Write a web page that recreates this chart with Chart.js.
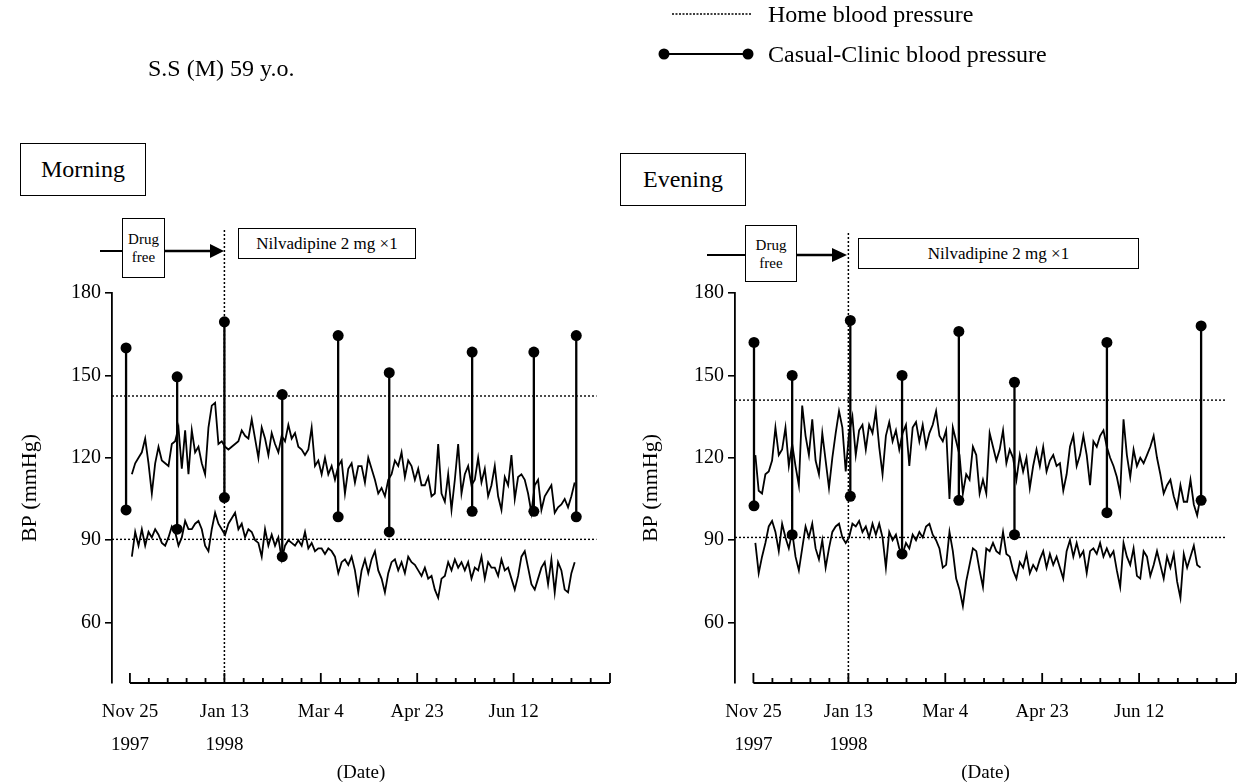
<!DOCTYPE html>
<html>
<head>
<meta charset="utf-8">
<script src="https://cdn.jsdelivr.net/npm/chart.js@4.4.1/dist/chart.umd.min.js"></script>
<style>
  body { margin: 0; width: 1242px; height: 782px; background: #fff; position: relative; overflow: hidden;
         font-family: "Liberation Serif", "Times New Roman", serif; color: #000; }
  canvas { position: absolute; top: 0; }
  .t { position: absolute; white-space: nowrap; font-size: 24px; line-height: 28px; }
  .box { position: absolute; border: 1.5px solid #000; box-sizing: border-box; background: #fff;
         display: flex; align-items: center; justify-content: center; text-align: center; }
  svg { position: absolute; left: 0; top: 0; }
</style>
</head>
<body>
<canvas id="morning" width="621" height="790" style="left:0"></canvas>
<canvas id="evening" width="621" height="790" style="left:621px"></canvas>

<div class="t" style="left:148px; top:54px;">S.S (M) 59 y.o.</div>
<div class="t" style="left:768px; top:0px;">Home blood pressure</div>
<div class="t" style="left:768px; top:40px;">Casual-Clinic blood pressure</div>

<div class="box" style="left:20px; top:143px; width:126px; height:53px; font-size:24px;">Morning</div>
<div class="box" style="left:620px; top:153px; width:126px; height:53px; font-size:24px;">Evening</div>

<div class="box" style="left:122px; top:218px; width:43px; height:60px; font-size:15px; line-height:18px;">Drug<br>free</div>
<div class="box" style="left:238px; top:228px; width:178px; height:31px; font-size:17px;">Nilvadipine 2 mg &times;1</div>

<div class="box" style="left:745px; top:225px; width:52px; height:57px; font-size:15px; line-height:18px;">Drug<br>free</div>
<div class="box" style="left:858px; top:238px; width:281px; height:31px; font-size:17px;">Nilvadipine 2 mg &times;1</div>

<svg width="1242" height="300">
  <!-- legend symbols -->
  <line x1="672" y1="14" x2="752" y2="14" stroke="#000" stroke-width="1.6" stroke-dasharray="2,1.5"/>
  <line x1="664" y1="54" x2="748" y2="54" stroke="#000" stroke-width="2.2"/>
  <circle cx="664" cy="54" r="5.5" fill="#000"/>
  <circle cx="748" cy="54" r="5.5" fill="#000"/>
  <!-- treatment arrows -->
  <line x1="100" y1="251" x2="122" y2="251" stroke="#000" stroke-width="2"/>
  <line x1="165" y1="251" x2="212" y2="251" stroke="#000" stroke-width="2.5"/>
  <polygon points="210,244 224,251 210,258" fill="#000"/>
  <line x1="707" y1="255" x2="745" y2="255" stroke="#000" stroke-width="2"/>
  <line x1="797" y1="255" x2="834" y2="255" stroke="#000" stroke-width="2.5"/>
  <polygon points="832,248 847,255 832,262" fill="#000"/>
</svg>

<script>
// ---- data (days counted from Nov 25, 1997) ----
const homeStartDay = 1;
const homeStepDays = 1.727;

// Morning home blood pressure (systolic / diastolic), mmHg
const morningHomeSys = [
  114,118,120,122,127,118,107,118,124,119, 118,117,125,126,131,116,130,114,130,122,
  124,118,114,131,139,140,125,126,124,123, 124,125,126,130,128,127,134,127,120,131,
  127,121,129,125,122,128,126,132,127,129, 124,123,121,123,131,117,119,114,120,114,
  117,112,117,119,107,116,118,111,117,117, 111,120,116,112,107,109,106,112,114,119,
  117,122,113,119,117,112,116,110,110,113, 106,107,125,107,104,114,101,112,125,107,
  114,117,110,112,120,111,116,106,110,117, 106,101,113,110,121,105,113,114,112,107,
  100,110,112,101,106,108,110,100,102,103, 105,102,106,111
];
const morningHomeDia = [
  84,93,88,94,88,93,91,94,92,89, 88,91,95,93,88,91,97,94,94,96,
  97,94,88,86,94,100,96,94,92,96, 98,100,94,96,91,94,93,90,89,84,
  94,88,92,88,91,83,88,90,89,88, 90,88,93,87,89,86,87,87,85,87,
  86,84,78,82,83,81,84,79,71,79, 83,78,83,86,79,76,71,78,82,83,
  79,82,78,84,82,81,79,77,80,76, 77,72,69,76,77,82,79,83,80,82,
  79,82,76,80,79,84,76,82,80,80, 77,83,79,80,76,72,77,84,86,80,
  74,72,76,80,82,74,83,71,82,79, 72,71,78,82
];

// Evening home blood pressure
const eveningHomeSys = [
  121,108,107,114,115,119,131,121,123,131, 117,125,117,110,139,128,121,134,119,114,
  129,119,109,120,129,137,131,115,129,135, 121,130,132,123,132,129,137,124,114,128,
  133,126,130,123,129,132,117,131,133,126, 132,124,129,132,137,128,126,130,105,131,
  126,121,107,114,112,124,121,107,112,107, 129,124,119,123,130,118,123,120,112,121,
  115,120,109,117,123,117,124,115,119,121, 117,118,108,114,124,128,117,121,128,121,
  110,126,124,128,130,124,120,117,113,107, 134,121,113,123,117,120,118,121,124,128,
  120,114,107,110,112,106,102,110,104,104, 112,103,99,106
];
const eveningHomeDia = [
  89,78,84,89,95,97,93,86,96,91, 87,93,84,79,87,95,91,96,87,83,
  90,80,87,93,95,96,91,89,91,96, 95,97,93,95,91,96,92,96,91,80,
  93,90,92,87,85,89,87,92,90,93, 91,95,96,92,90,87,80,81,93,86,
  76,72,66,75,81,87,86,79,73,87, 86,89,86,85,93,85,84,79,76,82,
  80,85,78,81,79,83,86,80,85,81, 84,80,76,86,90,84,89,84,86,78,
  86,87,85,89,84,87,84,86,79,73, 89,84,81,87,77,76,86,84,77,81,
  86,81,76,84,80,85,75,69,85,80, 84,88,81,80
];

// Casual-clinic visits: day, systolic, diastolic
const morningClinicDays = [-2, 24.5, 49, 79, 108, 134.5, 177.5, 209.5, 231.5];
const morningClinicSys  = [160, 149.5, 169.5, 143, 164.5, 151, 158.5, 158.5, 164.5];
const morningClinicDia  = [101, 94, 105.5, 84, 98.5, 93, 100.5, 100.5, 98.5];

const eveningClinicDays = [0.3, 20, 50, 76.7, 106, 134.7, 182.4, 231];
const eveningClinicSys  = [162, 150, 170, 150, 166, 147.5, 162, 168];
const eveningClinicDia  = [102.5, 92, 106, 85, 104.5, 92, 100, 104.5];

// Home BP reference levels drawn as dotted lines
const morningRefLevels = [142.5, 90.3];
const eveningRefLevels = [141, 91];

// Axes
const yTicks = [60, 90, 120, 150, 180];
const xLabelDays = [0, 49, 99, 149, 199];
const xTickLabels = [['Nov 25', '1997'], ['Jan 13', '1998'], 'Mar 4', 'Apr 23', 'Jun 12'];
const majorTickDays = [0, 49, 99, 149, 199, 249];
const minorPerInterval = 5;
const treatmentStartDay = 49;

const FONT = '"Liberation Serif", "Times New Roman", serif';
Chart.defaults.font.family = FONT;
Chart.defaults.color = '#000';

// draws the detached date axis with inward ticks and the treatment start line
const panelAxes = {
  id: 'panelAxes',
  afterDatasetsDraw(chart, args, opts) {
    const { ctx, chartArea, scales: { x } } = chart;
    const base = chartArea.bottom;
    ctx.save();
    ctx.strokeStyle = '#000';
    ctx.lineWidth = 1.8;
    ctx.beginPath();
    ctx.moveTo(x.getPixelForValue(majorTickDays[0]), base);
    ctx.lineTo(x.getPixelForValue(majorTickDays[majorTickDays.length - 1]), base);
    for (let i = 0; i < majorTickDays.length; i++) {
      const px = x.getPixelForValue(majorTickDays[i]);
      ctx.moveTo(px, base);
      ctx.lineTo(px, base - 10);
      if (i < majorTickDays.length - 1) {
        const span = majorTickDays[i + 1] - majorTickDays[i];
        for (let k = 1; k < minorPerInterval; k++) {
          const mx = x.getPixelForValue(majorTickDays[i] + span * k / minorPerInterval);
          ctx.moveTo(mx, base);
          ctx.lineTo(mx, base - 5);
        }
      }
    }
    ctx.stroke();

    // dotted line marking the start of nilvadipine
    ctx.lineWidth = 1.5;
    ctx.setLineDash([2, 2]);
    const sx = x.getPixelForValue(treatmentStartDay);
    ctx.beginPath();
    ctx.moveTo(sx, opts.lineTop);
    ctx.lineTo(sx, base);
    ctx.stroke();
    ctx.restore();
  }
};

function homePoints(values) {
  return values.map((v, i) => ({ x: homeStartDay + i * homeStepDays, y: v }));
}

function clinicPoints(days, sys, dia) {
  const pts = [];
  days.forEach((d, i) => {
    pts.push({ x: d, y: sys[i] }, { x: d, y: dia[i] }, { x: d, y: null });
  });
  return pts;
}

function makePanel(canvasId, p) {
  const refSets = p.refLevels.map(v => ({
    data: [{ x: p.xMin, y: v }, { x: p.refEnd, y: v }],
    borderColor: '#000', borderWidth: 1.4, borderDash: [2, 2],
    pointRadius: 0, order: 3
  }));
  new Chart(document.getElementById(canvasId), {
    type: 'line',
    data: {
      datasets: [
        ...refSets,
        { data: homePoints(p.sys), borderColor: '#000', borderWidth: 1.8, pointRadius: 0, tension: 0, order: 2 },
        { data: homePoints(p.dia), borderColor: '#000', borderWidth: 1.8, pointRadius: 0, tension: 0, order: 2 },
        { data: clinicPoints(p.clinicDays, p.clinicSys, p.clinicDia), borderColor: '#000', borderWidth: 2.3,
          pointRadius: 5.5, pointBackgroundColor: '#000', pointBorderWidth: 0, spanGaps: false, order: 1 }
      ]
    },
    options: {
      responsive: false,
      animation: false,
      events: [],
      layout: { padding: { top: 293, left: 0, right: p.padRight, bottom: 0 } },
      plugins: {
        legend: { display: false },
        tooltip: { enabled: false },
        panelAxes: { lineTop: p.lineTop }
      },
      scales: {
        x: {
          type: 'linear', min: p.xMin, max: 249,
          afterBuildTicks: s => { s.ticks = xLabelDays.map(v => ({ value: v })); },
          afterFit: s => { s.height = 107; },
          grid: { display: false, drawTicks: false },
          border: { display: false },
          ticks: {
            autoSkip: false, maxRotation: 0, padding: 12,
            font: { size: 19, lineHeight: 1.75 },
            callback: v => xTickLabels[xLabelDays.indexOf(v)]
          },
          title: { display: true, text: '(Date)', font: { size: 19 }, padding: { top: 0, bottom: 6 } }
        },
        y: {
          min: 38, max: 180,
          afterBuildTicks: s => { s.ticks = yTicks.map(v => ({ value: v })); },
          afterFit: s => { s.width = p.yWidth; },
          grid: { drawOnChartArea: false, drawTicks: true, tickLength: 7, color: '#000', lineWidth: 1.6 },
          border: { display: true, color: '#000', width: 1.8 },
          ticks: { padding: 4, font: { size: 20 } },
          title: { display: true, text: 'BP (mmHg)', font: { size: 22 }, padding: { top: 17 } }
        }
      }
    },
    plugins: [panelAxes]
  });
}

makePanel('morning', {
  sys: morningHomeSys, dia: morningHomeDia,
  clinicDays: morningClinicDays, clinicSys: morningClinicSys, clinicDia: morningClinicDia,
  refLevels: morningRefLevels, refEnd: 242,
  xMin: -9.3, padRight: 11, yWidth: 112, lineTop: 230
});

makePanel('evening', {
  sys: eveningHomeSys, dia: eveningHomeDia,
  clinicDays: eveningClinicDays, clinicSys: eveningClinicSys, clinicDia: eveningClinicDia,
  refLevels: eveningRefLevels, refEnd: 244,
  xMin: -9.5, padRight: 6, yWidth: 114, lineTop: 233
});
</script>
</body>
</html>
